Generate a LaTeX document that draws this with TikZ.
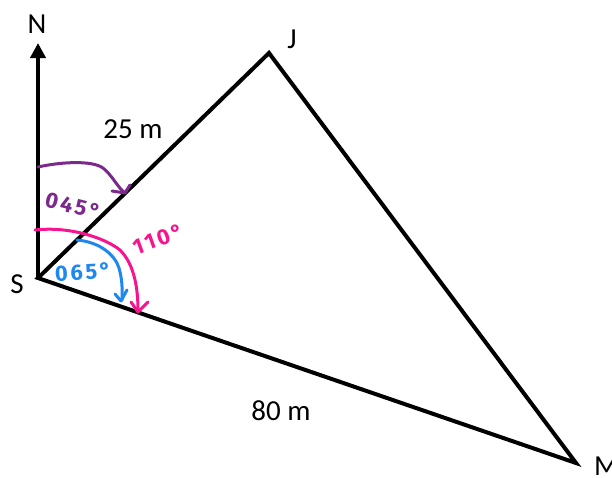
\documentclass[tikz,border=0pt]{standalone}
\usepackage{fontspec}
\setmainfont{Carlito}
\newfontfamily\hand[LetterSpace=12]{Fira Sans}
\usetikzlibrary{arrows.meta}
\definecolor{mypurple}{HTML}{7B2A8C}
\definecolor{mypink}{HTML}{F7148F}
\definecolor{myblue}{HTML}{1E88F0}
\begin{document}
\begin{tikzpicture}[x=1pt,y=-1pt,line join=miter,
  edge/.style={line width=4pt},
  lbl/.style={font=\fontsize{29}{32}\selectfont, inner sep=0pt},
  hw/.style={line width=3pt, line cap=round, line join=round},
  hwtext/.style={font=\hand\bfseries\fontsize{22}{24}\selectfont, inner sep=0pt}]
\useasboundingbox (0,0) rectangle (612,477);
\coordinate (S) at (38,278);
\coordinate (J) at (269,53);
\coordinate (M) at (576,463);
\coordinate (Ntip) at (38,43);
\draw[edge, -{Triangle[length=15pt,width=15pt]}] (S) -- (Ntip);
\draw[edge] (S) -- (J) -- (M) -- cycle;
\node[lbl] (nl) at (37,24) {N};
\node[lbl] (jl) at (292,39) {J};
\node[lbl] (sl) at (17,284) {S};
\node[lbl, anchor=west] (ml) at (594,466) {M};
\node[lbl] (sj) at (133,129) {25 m};
\node[lbl] (sm) at (281,411) {80 m};
% purple
\draw[hw, mypurple] (38,167) .. controls (60,162) and (92,160) .. (103,168) .. controls (112,175) and (118,188) .. (125,193);
\draw[hw, mypurple] (130,185) -- (125,193) -- (112,191);
\node[hwtext, mypurple, rotate=-14] (t45) at (73,206) {045°};
% pink
\draw[hw, mypink] (35,230) .. controls (70,226) and (105,238) .. (120,250) .. controls (135,265) and (138,290) .. (138,311);
\draw[hw, mypink] (131,302) -- (138,312) -- (148,302);
\node[hwtext, mypink, rotate=20] (t110) at (158,239) {110°};
% blue
\draw[hw, myblue] (77,240) .. controls (100,242) and (115,255) .. (119,268) .. controls (123,282) and (122,292) .. (122,300);
\draw[hw, myblue] (115,294) -- (121,301) -- (127,290);
\node[hwtext, myblue, rotate=3] (t65) at (83,272) {065°};
\end{tikzpicture}
\end{document}
